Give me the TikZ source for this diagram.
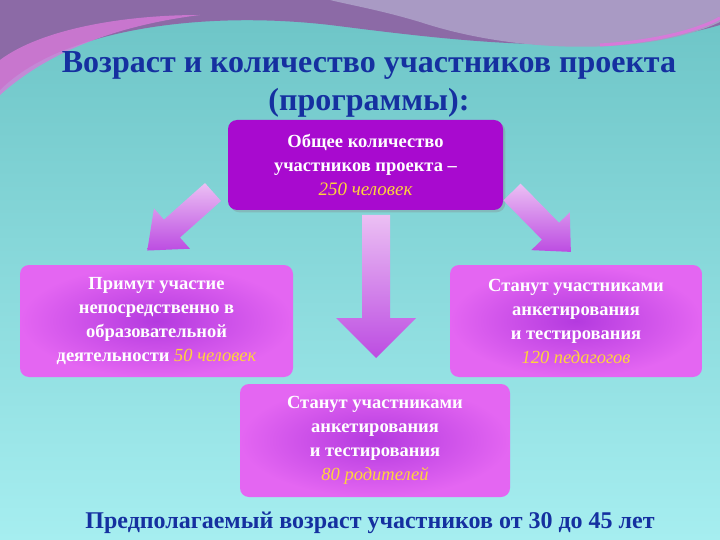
\documentclass[tikz,border=0pt]{standalone}
\usepackage{fontspec}
\setmainfont{Liberation Serif}
\usetikzlibrary{shadows}
\definecolor{teal1}{HTML}{6CC4C6}
\definecolor{teal2}{HTML}{A6EEF0}
\definecolor{wave}{HTML}{8C6AA6}
\definecolor{wavel}{HTML}{A99AC4}
\definecolor{pink}{HTML}{D77AD9}
\definecolor{boxA}{HTML}{A80ACF}
\definecolor{boxB}{HTML}{E466F2}
\definecolor{boxBd}{HTML}{B43ADF}
\definecolor{yel}{HTML}{FFD43A}
\definecolor{titleblue}{HTML}{1530A0}
\definecolor{arr}{HTML}{DE95EC}
\tikzset{
 box/.style={rounded corners=9pt,text=white,font=\bfseries\fontsize{18.5}{24}\selectfont,align=center,inner sep=0pt},
 sidebox/.style={box,inner color=boxBd,outer color=boxB},
 fatfill/.style={top color=arr!60!white,bottom color=boxBd!80!arr,draw=none}
}
% #1 shaft length, #2 total length, #3 shaft half width, #4 head half width
\newcommand{\fatarr}[4]{\shade[fatfill] (0,-#3) -- (#1,-#3) -- (#1,-#4) -- (#2,0) -- (#1,#4) -- (#1,#3) -- (0,#3) -- cycle;}
\begin{document}
\begin{tikzpicture}[x=1pt,y=-1pt]
\useasboundingbox (0,0) rectangle (720,540);
\shade[top color=teal1,bottom color=teal2] (0,0) rectangle (720,540);
% top waves
\fill[wave] (0,0) -- (720,0) -- (720,25) .. controls (600,60) and (450,40) .. (330,25) .. controls (200,10) and (60,30) .. (0,90) -- cycle;
\fill[wavel] (330,0) -- (720,0) -- (720,22) .. controls (650,55) and (520,55) .. (420,22) .. controls (380,10) and (350,5) .. (330,0) -- cycle;
\fill[pink,opacity=0.8] (0,60) .. controls (40,30) and (120,15) .. (200,15) .. controls (120,25) and (50,50) .. (0,95) -- cycle;
\draw[pink,line width=3pt] (600,45) .. controls (650,42) and (695,32) .. (720,18);
\node[text=titleblue,font=\bfseries\fontsize{32}{38}\selectfont,align=center] (title) at (369,84) {Возраст и количество участников проекта\\(программы):};
\node[box,fill=boxA,minimum width=275pt,minimum height=90pt,drop shadow={opacity=0.3}] (top) at (365.5,165) {Общее количество\\участников проекта –\\{\normalfont\fontsize{19}{24}\selectfont\itshape\color{yel}250 человек}};
\node[sidebox,minimum width=273pt,minimum height=112pt] (left) at (156.5,321) {Примут участие\\непосредственно в\\образовательной\\деятельности {\normalfont\itshape\color{yel}50 человек}};
\node[sidebox,minimum width=252pt,minimum height=112pt] (right) at (576,321) {Станут участниками\\анкетирования\\и тестирования\\{\normalfont\itshape\color{yel}120 педагогов}};
\node[sidebox,minimum width=270pt,minimum height=113pt] (bot) at (375,440.5) {Станут участниками\\анкетирования\\ и тестирования\\{\normalfont\itshape\color{yel}80 родителей}};
\coordinate (al) at (213,192);
\coordinate (am) at (376,215);
\coordinate (ar) at (512,192);
\begin{scope}[shift={(al)},rotate=221.7]\fatarr{55}{88}{12}{27}\end{scope}
\begin{scope}[shift={(am)},rotate=-90]\fatarr{103}{143}{14}{40}\end{scope}
\begin{scope}[shift={(ar)},rotate=-45.5]\fatarr{55}{84}{12}{27}\end{scope}
\node[text=titleblue,font=\bfseries\fontsize{24}{28}\selectfont] (foot) at (370,523) {Предполагаемый возраст участников от 30 до 45 лет};
\end{tikzpicture}
\end{document}
